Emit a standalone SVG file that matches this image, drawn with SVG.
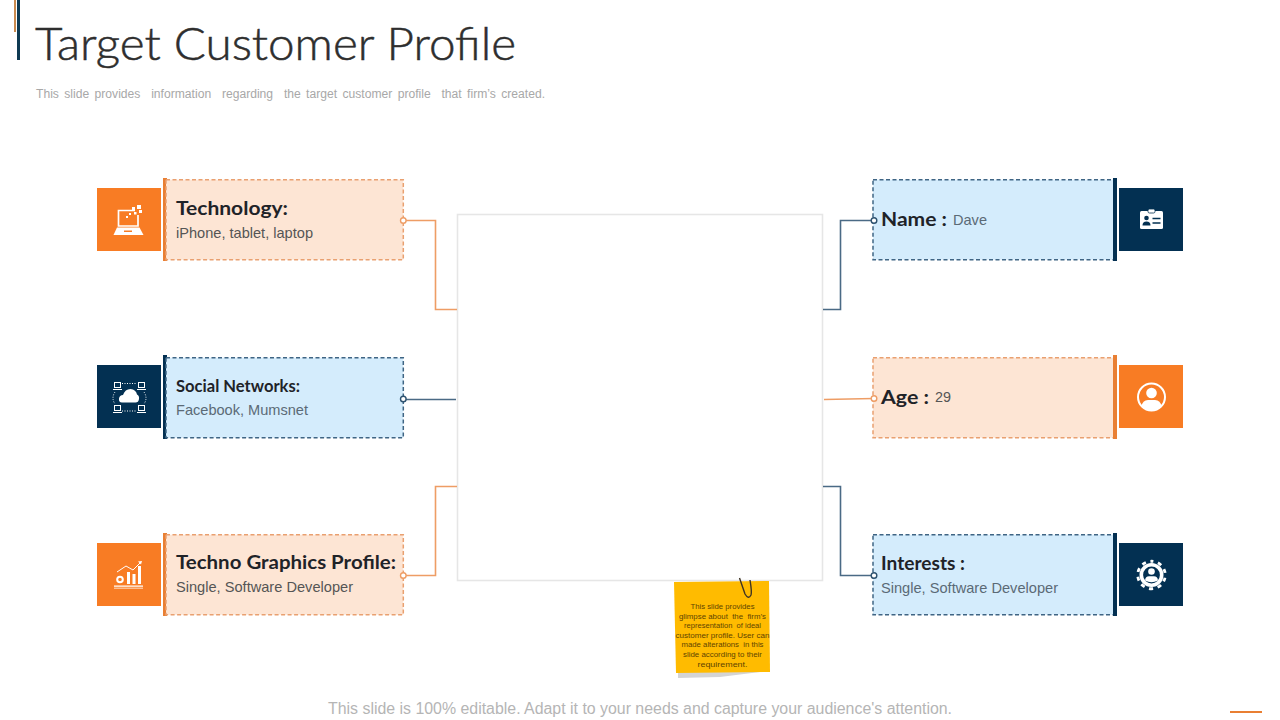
<svg xmlns="http://www.w3.org/2000/svg" width="1280" height="720" viewBox="0 0 1280 720">
<style>
text{font-family:"Liberation Sans",Arial,sans-serif;white-space:pre}
.h{font-family:Lato,"Liberation Sans",sans-serif;font-weight:700;fill:#1f2328}
.b{font-size:15px}
.co{fill:#fde5d4;stroke:#e9a070;stroke-width:1.5;stroke-dasharray:4 2.5}
.cb{fill:#d4ecfc;stroke:#3f6584;stroke-width:1.5;stroke-dasharray:4 2.5}
.io{fill:#f87c24}.in{fill:#033052}
.bo{fill:#e97f33}.bn{fill:#033052}
.lo{fill:none;stroke:#ee9d65;stroke-width:1.6}
.ln{fill:none;stroke:#4a6a85;stroke-width:1.6}
.do{fill:#fff;stroke:#ee9d65;stroke-width:1.4}
.dn{fill:#fff;stroke:#2d5270;stroke-width:1.4}
.w{fill:#fff}.ws{fill:none;stroke:#fff}
.st{font-family:"Liberation Sans",sans-serif;font-size:7.6px;fill:#5e4400;text-anchor:middle}
</style>
<g id="header">
<rect x="14" y="0" width="2" height="32" fill="#c98a4e"/>
<rect x="17" y="0" width="3" height="60" fill="#0e3a52"/>
<text x="35" y="60" font-size="45" style="font-family:Lato,'Liberation Sans',sans-serif;font-weight:300" fill="#2e2e2e" stroke="#2e2e2e" stroke-width=".5" textLength="481" lengthAdjust="spacingAndGlyphs">Target Customer Profile</text>
<text x="36" y="98" font-size="12" fill="#a8a8a8" word-spacing="2" textLength="509" lengthAdjust="spacingAndGlyphs">This slide provides  information  regarding  the target customer profile  that firm’s created.</text>
</g>
<g id="center"><rect x="457.500" y="214.500" width="365" height="366" fill="#fff" stroke="#e6e6e6" stroke-width="1.600"/></g>
<g id="connectors">
<path class="lo" d="M403 220.500H435.500V309.500H457"/>
<path class="ln" d="M403 399.500H456"/>
<path class="lo" d="M403 575.500H435.500V486.500H457"/>
<path class="ln" d="M823 309.500H840.500V220.500H874"/>
<path class="lo" d="M824 399.500L874 398.500"/>
<path class="ln" d="M823 486.500H840.500V575.500H874"/>
</g>
<g id="node-technology">
<rect class="io" x="97" y="188" width="64" height="63"/>
<rect class="bo" x="163" y="178" width="4" height="83"/>
<rect class="co" x="166" y="179.700" width="237.300" height="80"/>
<path class="ws" stroke-width="1.700" d="M135 210.500H118.500V226H138V215"/>
<path class="w" d="M117 227.500H139.500L143.500 235H113.500Z"/>
<rect x="124" y="230.500" width="8" height="1.500" fill="#f87c24"/>
<path class="w" d="M137 205h4v4h-4zM132 207h3v3h-3zM139 210h3v3h-3zM134 212h2.500v2.500h-2.500zM129 213h2v2h-2zM126 216h2v2h-2z"/>
<circle class="do" cx="403.300" cy="220.500" r="2.800"/>
<text class="h" x="176" y="215" font-size="19" textLength="112" lengthAdjust="spacingAndGlyphs">Technology:</text>
<text class="b" x="176" y="238" fill="#555" textLength="137" lengthAdjust="spacingAndGlyphs">iPhone, tablet, laptop</text>
</g>
<g id="node-social">
<rect class="in" x="97" y="365" width="64" height="63"/>
<rect class="bn" x="163" y="355" width="4" height="84"/>
<rect class="cb" x="166" y="357.700" width="237.300" height="80"/>
<g class="ws" stroke-width="1"><rect x="114.500" y="382.500" width="6" height="5"/><rect x="138.500" y="382.500" width="6" height="5"/><rect x="114.500" y="405.500" width="6" height="5"/><rect x="138.500" y="405.500" width="6" height="5"/><path d="M113 389.500h9M137 389.500h9M113 412.500h9M137 412.500h9"/><path stroke-dasharray="1 1.500" d="M122 383.500H137M122 411H137M115 392Q111 398 115 404M144 392Q148 398 144 404"/></g>
<path class="w" d="M122 402.500Q118.500 402.500 119 398.500Q119.500 395 123 395Q125 389 130.500 389Q136 389.500 137 394.500Q139.500 395.500 139 399Q138.500 402.500 135.500 402.500Z"/>
<circle class="dn" cx="403.300" cy="399" r="2.800"/>
<text class="h" x="176" y="392" font-size="17" textLength="124" lengthAdjust="spacingAndGlyphs">Social Networks:</text>
<text class="b" x="176" y="415" fill="#5b6a76" textLength="132" lengthAdjust="spacingAndGlyphs">Facebook, Mumsnet</text>
</g>
<g id="node-techno">
<rect class="io" x="97" y="543" width="64" height="63"/>
<rect class="bo" x="163" y="533" width="4" height="83"/>
<rect class="co" x="166" y="534.700" width="237.300" height="80"/>
<circle class="ws" stroke-width="2" cx="120" cy="579.500" r="2.800"/>
<path class="w" d="M127 572h3v12h-3zM132.500 574h3v10h-3zM138 566h3v18h-3zM114 585.500h29v1.200h-29zM114 587.800h29v.8h-29z"/>
<path class="ws" stroke-width="1" d="M117 572L126 566L133 570L141 562"/>
<path class="w" d="M142 561l-4 .5 3 3z"/>
<circle class="do" cx="403.300" cy="575.500" r="2.800"/>
<text class="h" x="176" y="569" font-size="19" textLength="220" lengthAdjust="spacingAndGlyphs">Techno Graphics Profile:</text>
<text class="b" x="176" y="592" fill="#555" textLength="177" lengthAdjust="spacingAndGlyphs">Single, Software Developer</text>
</g>
<g id="node-name">
<rect class="cb" x="873" y="179.700" width="241" height="80"/>
<rect class="bn" x="1113" y="178" width="4" height="83"/>
<rect class="in" x="1119" y="188" width="64" height="63"/>
<rect class="w" x="1140" y="211" width="23" height="18" rx="1.500"/>
<rect class="w" x="1148" y="209" width="7" height="4" rx="1.500" stroke="#033052" stroke-width=".8"/>
<circle cx="1146.500" cy="218" r="2.300" fill="#033052"/>
<path d="M1142.500 225.500q0-4 4-4t4 4z" fill="#033052"/>
<path d="M1152.500 218.500h8M1152.500 223h8" stroke="#033052" stroke-width="1.700"/>
<circle class="dn" cx="874" cy="220.500" r="2.800"/>
<text class="h" x="881" y="225.500" font-size="19.500" textLength="66" lengthAdjust="spacingAndGlyphs">Name :</text>
<text class="b" x="953" y="225" fill="#5b6a76" textLength="34" lengthAdjust="spacingAndGlyphs">Dave</text>
</g>
<g id="node-age">
<rect class="co" x="873" y="357.700" width="241" height="80"/>
<rect class="bo" x="1113" y="355" width="4" height="84"/>
<rect class="io" x="1119" y="365" width="64" height="63"/>
<circle class="ws" stroke-width="2" cx="1151.500" cy="397" r="13.500"/>
<circle class="w" cx="1151.500" cy="393" r="5.300"/>
<path class="w" d="M1141.500 406.500Q1142.500 400 1148 400H1155Q1160.500 400 1161.500 406.500Q1151.500 414 1141.500 406.500Z"/>
<circle class="do" cx="874" cy="398.500" r="2.800"/>
<text class="h" x="881" y="404" font-size="19.500" textLength="48" lengthAdjust="spacingAndGlyphs">Age :</text>
<text class="b" x="935" y="402" fill="#555" textLength="16" lengthAdjust="spacingAndGlyphs">29</text>
</g>
<g id="node-interests">
<rect class="cb" x="873" y="534.700" width="241" height="80"/>
<rect class="bn" x="1113" y="533" width="4" height="83"/>
<rect class="in" x="1119" y="543" width="64" height="63"/>
<circle class="ws" stroke-width="3.600" cx="1151.500" cy="575" r="10.200"/>
<path class="ws" stroke-width="2.800" stroke-dasharray="4 4.640" stroke-dashoffset="2" d="M1151.500 561.250a13.750 13.750 0 1 1-.01 0"/>
<circle class="w" cx="1151.500" cy="571.500" r="3.300"/>
<path class="w" d="M1145 580.500Q1145.500 576.300 1149 576.300H1154Q1157.500 576.300 1158 580.500Q1151.500 584 1145 580.500Z"/>
<circle class="dn" cx="874" cy="575.500" r="2.800"/>
<text class="h" x="881" y="569.500" font-size="19.500" textLength="84" lengthAdjust="spacingAndGlyphs">Interests :</text>
<text class="b" x="881" y="593" fill="#5b6a76" textLength="177" lengthAdjust="spacingAndGlyphs">Single, Software Developer</text>
</g>
<g id="sticky-note">
<path d="M678 671H769L720 677L678 678Z" fill="#d4d4d4"/>
<path d="M674 582L769 581L770 672L676 673Z" fill="#ffbb00"/>
<path d="M739.500 578L745 594Q748.500 600 751 595Q752 592 750 580" fill="none" stroke="#3e3424" stroke-width="1.400"/>
<text class="st" x="722.500" y="609" textLength="64" lengthAdjust="spacingAndGlyphs">This slide provides</text>
<text class="st" x="722.500" y="618.500" textLength="87" lengthAdjust="spacingAndGlyphs">glimpse about  the  firm’s</text>
<text class="st" x="722.500" y="628" textLength="77" lengthAdjust="spacingAndGlyphs">representation  of ideal</text>
<text class="st" x="722.500" y="638" textLength="94" lengthAdjust="spacingAndGlyphs">customer profile. User can</text>
<text class="st" x="722.500" y="647" textLength="82" lengthAdjust="spacingAndGlyphs">made alterations  in this</text>
<text class="st" x="722.500" y="657" textLength="79" lengthAdjust="spacingAndGlyphs">slide according to their</text>
<text class="st" x="722.500" y="666.500" textLength="50" lengthAdjust="spacingAndGlyphs">requirement.</text>
</g>
<g id="footer">
<text x="328" y="714" font-size="16" fill="#b5b5b5" textLength="624" lengthAdjust="spacingAndGlyphs">This slide is 100% editable. Adapt it to your needs and capture your audience's attention.</text>
<rect x="1230" y="711" width="32" height="2" fill="#e97f33"/>
</g>
</svg>
